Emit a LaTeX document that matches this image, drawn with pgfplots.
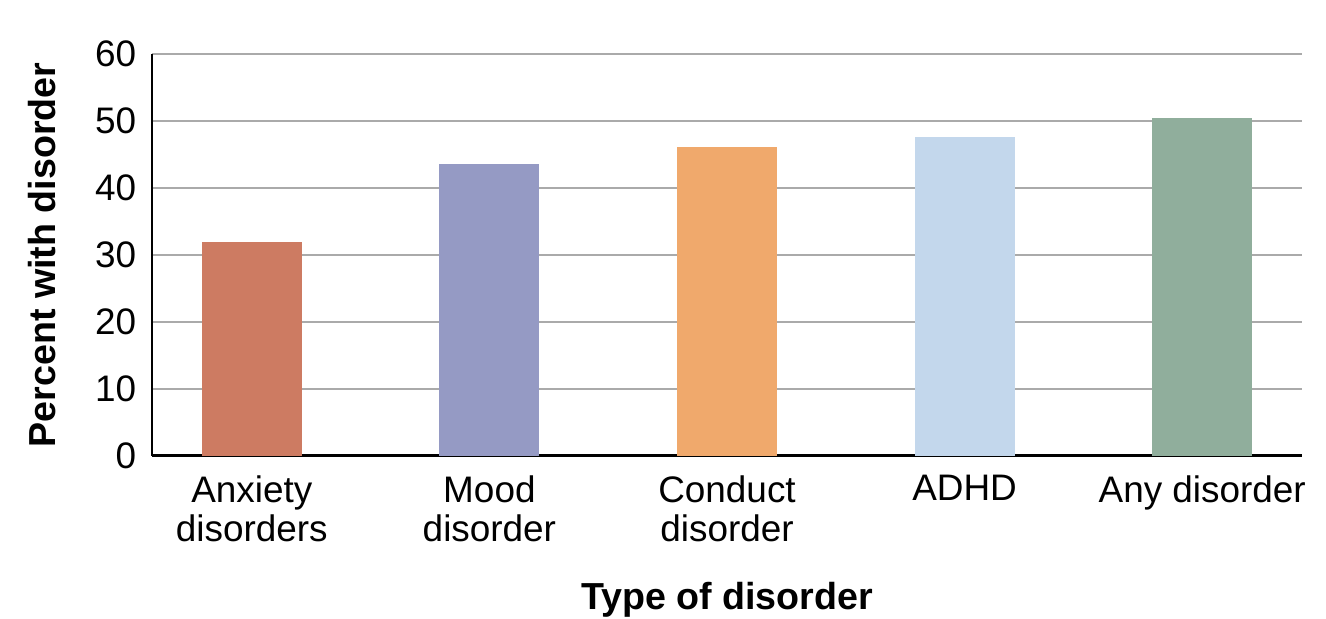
\documentclass[border=0pt]{standalone}
\usepackage{pgfplots}
\pgfplotsset{compat=1.18}
\usepackage{fontspec}
\setmainfont{Liberation Sans}

\definecolor{anxiety}{HTML}{CD7B62}
\definecolor{mood}{HTML}{959AC4}
\definecolor{conduct}{HTML}{F0A96C}
\definecolor{adhd}{HTML}{C3D7EC}
\definecolor{anyd}{HTML}{90AE9C}
\definecolor{gridgray}{HTML}{AAAAAA}

\begin{document}
\begin{tikzpicture}
\useasboundingbox (0,0) rectangle (13.26cm,6.19cm);
\begin{axis}[
  at={(1.52cm,1.63cm)}, anchor=south west,
  scale only axis,
  width=11.5cm, height=4.02cm,
  xmin=-0.42, xmax=4.42,
  ymin=0, ymax=60,
  ytick={0,10,...,60},
  xtick={0,1,2,3,4},
  xticklabels={{Anxiety\\disorders},{Mood\\disorder},{Conduct\\disorder},{ADHD},{Any disorder}},
  xticklabel style={align=center, font=\fontsize{10.5}{11.3}\selectfont, yshift=-2pt},
  yticklabel style={font=\fontsize{10.5}{12}\selectfont, xshift=-1pt},
  /pgf/number format/assume math mode=true,
  major tick length=0pt,
  axis x line=bottom, axis y line=left,
  axis line style={-, line width=0.85pt, black},
  ymajorgrids,
  grid style={gridgray, line width=0.55pt},
  xlabel={\textbf{Type of disorder}},
  ylabel={\textbf{Percent with disorder}},
  every axis x label/.style={at={(axis description cs:0.5,-0.357)}, anchor=center, font=\fontsize{10.7}{13}\selectfont},
  every axis y label/.style={at={(axis description cs:-0.0957,0.5)}, rotate=90, anchor=center, font=\fontsize{10.7}{13}\selectfont},
  clip=false,
]
\addplot[ybar, bar width=1cm, fill=anxiety, draw=none] coordinates {(0,32)};
\addplot[ybar, bar width=1cm, fill=mood, draw=none] coordinates {(1,43.6)};
\addplot[ybar, bar width=1cm, fill=conduct, draw=none] coordinates {(2,46.1)};
\addplot[ybar, bar width=1cm, fill=adhd, draw=none] coordinates {(3,47.6)};
\addplot[ybar, bar width=1cm, fill=anyd, draw=none] coordinates {(4,50.4)};
\end{axis}
\end{tikzpicture}
\end{document}
